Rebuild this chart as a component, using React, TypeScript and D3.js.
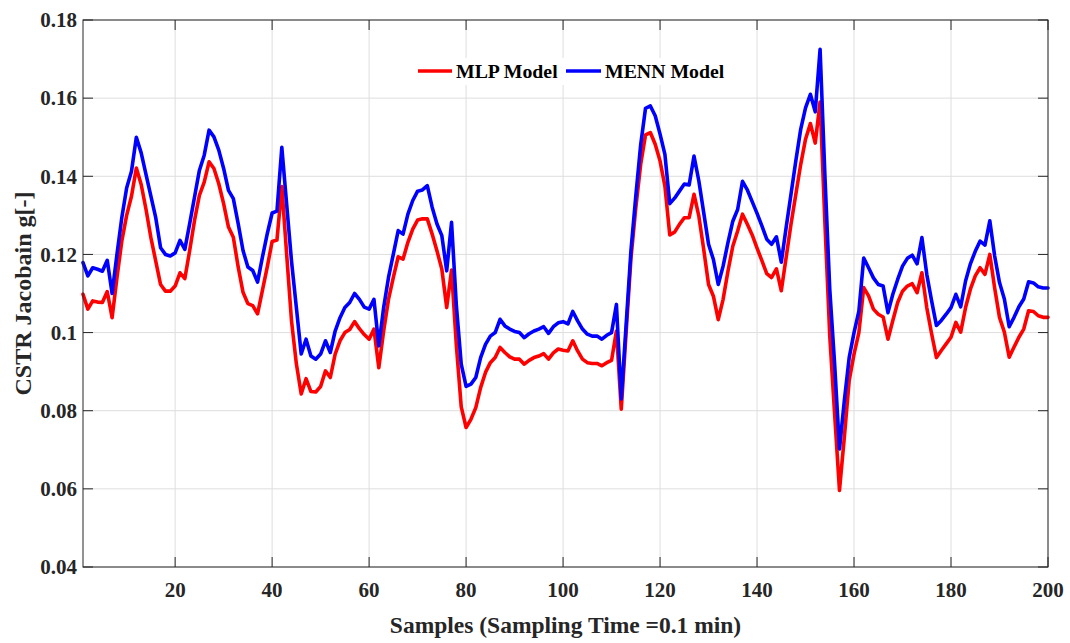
import React from "react";
import * as d3 from "d3";

const mlpModel: number[] = [
  0.1098, 0.106, 0.1081, 0.1078, 0.1077, 0.1105, 0.1038, 0.114, 0.1234, 0.13,
  0.1349, 0.1421, 0.1379, 0.1315, 0.1243, 0.1183, 0.1123, 0.1106, 0.1106, 0.1119,
  0.1153, 0.1138, 0.121, 0.1287, 0.1351, 0.1385, 0.1437, 0.142, 0.1381, 0.133,
  0.127, 0.1244, 0.1168, 0.1103, 0.1074, 0.1069, 0.1048, 0.1108, 0.1168, 0.1233,
  0.1237, 0.1374, 0.12, 0.103, 0.092, 0.0843, 0.0882, 0.0849, 0.0848, 0.0862,
  0.0902, 0.0885, 0.0945, 0.0979, 0.1, 0.1008, 0.1028, 0.101, 0.0995, 0.0983,
  0.1009, 0.091, 0.1004, 0.1085, 0.1141, 0.1194, 0.1188, 0.1231, 0.1265, 0.1288,
  0.1291, 0.1291, 0.1252, 0.1209, 0.1162, 0.1064, 0.116, 0.0966, 0.081, 0.0757,
  0.0778, 0.0808, 0.0859, 0.0898, 0.0923, 0.0936, 0.0962, 0.0949, 0.0938, 0.0932,
  0.0932, 0.0919, 0.0929, 0.0936, 0.094, 0.0946, 0.0932, 0.0948, 0.0958, 0.0955,
  0.0953, 0.0979, 0.0953, 0.0932, 0.0923, 0.0921, 0.0921, 0.0915, 0.0923, 0.0929,
  0.1004, 0.0804, 0.1, 0.119, 0.132, 0.143, 0.1506, 0.1512, 0.1482, 0.1439,
  0.1375, 0.125, 0.1257, 0.1277, 0.1294, 0.1294, 0.1354, 0.1298, 0.1213, 0.1123,
  0.1093, 0.1033, 0.1085, 0.1157, 0.1221, 0.126, 0.1303, 0.1277, 0.125, 0.1216,
  0.1184, 0.1151, 0.1141, 0.1163, 0.1107, 0.1192, 0.1277, 0.1354, 0.143, 0.1495,
  0.1535, 0.1485, 0.159, 0.128, 0.099, 0.0791, 0.0596, 0.0732, 0.0877, 0.0945,
  0.1, 0.1115, 0.1094, 0.106, 0.1047, 0.104, 0.0983, 0.1031, 0.1077, 0.1106,
  0.1119, 0.1125, 0.1102, 0.1153, 0.1064, 0.0997, 0.0936, 0.0954, 0.0971, 0.0988,
  0.1026, 0.1001, 0.1064, 0.1111, 0.1145, 0.1166, 0.1149, 0.12, 0.1114, 0.1039,
  0.1001, 0.0937, 0.0963, 0.0988, 0.1009, 0.1056, 0.1054, 0.1043, 0.1039, 0.1039,
];

const mennModel: number[] = [
  0.1179, 0.1145, 0.1166, 0.1162, 0.1157, 0.1185, 0.11, 0.12, 0.1294, 0.137,
  0.1413, 0.15, 0.146, 0.1404, 0.1349, 0.1294, 0.1217, 0.12, 0.1196, 0.1204,
  0.1236, 0.1213, 0.1279, 0.1347, 0.1415, 0.1454, 0.1518, 0.1501, 0.1467, 0.142,
  0.1364, 0.1343, 0.1279, 0.121, 0.1168, 0.1159, 0.1129, 0.1193, 0.1253, 0.1306,
  0.1311, 0.1474, 0.1328, 0.1183, 0.1064, 0.0945, 0.0983, 0.094, 0.0932, 0.0945,
  0.0979, 0.0949, 0.1004, 0.1038, 0.1064, 0.1077, 0.11, 0.1085, 0.1065, 0.106,
  0.1085, 0.0966, 0.1064, 0.1141, 0.1201, 0.1261, 0.1252, 0.1303, 0.1338, 0.1362,
  0.1365, 0.1376, 0.1321, 0.1278, 0.1248, 0.1158, 0.1282, 0.1068, 0.0919, 0.0862,
  0.0868, 0.0885, 0.0936, 0.097, 0.0991, 0.1, 0.1034, 0.1017, 0.1009, 0.1003,
  0.1, 0.0987, 0.0997, 0.1004, 0.1009, 0.1015, 0.0998, 0.1015, 0.1025, 0.1028,
  0.1022, 0.1054, 0.103, 0.1009, 0.0996, 0.0991, 0.0991, 0.0983, 0.0993, 0.1,
  0.1072, 0.083, 0.102, 0.121, 0.135, 0.148, 0.1574, 0.158, 0.1555, 0.1508,
  0.1456, 0.133, 0.1344, 0.1362, 0.138, 0.1378, 0.1452, 0.1388, 0.1307, 0.1226,
  0.1187, 0.1123, 0.117, 0.123, 0.1285, 0.1315, 0.1387, 0.1365, 0.1335, 0.1305,
  0.1273, 0.1239, 0.1226, 0.1245, 0.118, 0.1269, 0.1354, 0.144, 0.152, 0.1575,
  0.161, 0.1565, 0.1725, 0.14, 0.111, 0.0919, 0.0702, 0.0826, 0.0936, 0.1,
  0.1055, 0.1191, 0.1166, 0.114, 0.1123, 0.1119, 0.1051, 0.1098, 0.1136, 0.117,
  0.119, 0.1198, 0.1176, 0.1243, 0.1149, 0.1081, 0.1018, 0.1031, 0.1047, 0.1064,
  0.1098, 0.1066, 0.1132, 0.1176, 0.1208, 0.1234, 0.1224, 0.1286, 0.1196, 0.1128,
  0.1086, 0.1015, 0.1039, 0.1066, 0.1086, 0.113, 0.1127, 0.1117, 0.1114, 0.1114,
];

const xTicks = [20, 40, 60, 80, 100, 120, 140, 160, 180, 200];
const yTicks = [0.04, 0.06, 0.08, 0.1, 0.12, 0.14, 0.16, 0.18];
const yTickLabels = ["0.04", "0.06", "0.08", "0.1", "0.12", "0.14", "0.16", "0.18"];
const seriesNames = ["MLP Model", "MENN Model"];
const seriesColors = ["#ff0000", "#0000ff"];

const W = 1070;
const H = 643;
const M = { left: 83, right: 22, top: 20, bottom: 76 };
const FONT = "'Liberation Serif', 'Times New Roman', serif";
const AX = "#262626";

export default function App() {
  const x = d3.scaleLinear().domain([1, 200]).range([M.left, W - M.right]);
  const y = d3.scaleLinear().domain([0.04, 0.18]).range([H - M.bottom, M.top]);
  const line = d3
    .line<number>()
    .x((_, i) => x(i + 1))
    .y((d) => y(d));
  const x0 = x.range()[0], x1 = x.range()[1];
  const y0 = y.range()[0], y1 = y.range()[1];
  const tl = 10;
  const series = [mlpModel, mennModel];

  return (
    <svg
      width={W}
      height={H}
      style={{ position: "absolute", left: 0, top: 0, background: "#fff" }}
      fontFamily={FONT}
    >
      <rect x={0} y={0} width={W} height={H} fill="#fff" />
      {xTicks.map((t) => (
        <line key={"gx" + t} x1={x(t)} x2={x(t)} y1={y0} y2={y1} stroke="#dedede" strokeWidth={1} />
      ))}
      {yTicks.map((t) => (
        <line key={"gy" + t} x1={x0} x2={x1} y1={y(t)} y2={y(t)} stroke="#dedede" strokeWidth={1} />
      ))}
      <rect x={408} y={58} width={324} height={27} fill="#fff" />
      {series.map((s, k) => (
        <path
          key={"s" + k}
          d={line(s) || ""}
          fill="none"
          stroke={seriesColors[k]}
          strokeWidth={3.6}
          strokeLinejoin="round"
          strokeLinecap="round"
        />
      ))}
      <rect x={x0} y={y1} width={x1 - x0} height={y0 - y1} fill="none" stroke={AX} strokeWidth={1} />
      {xTicks.map((t) => (
        <g key={"tx" + t}>
          <line x1={x(t)} x2={x(t)} y1={y0} y2={y0 - tl} stroke={AX} />
          <line x1={x(t)} x2={x(t)} y1={y1} y2={y1 + tl} stroke={AX} />
          <text x={x(t)} y={y0 + 30} textAnchor="middle" fontSize={21} fontWeight="bold" fill={AX}>
            {t}
          </text>
        </g>
      ))}
      {yTicks.map((t, i) => (
        <g key={"ty" + t}>
          <line x1={x0} x2={x0 + tl} y1={y(t)} y2={y(t)} stroke={AX} />
          <line x1={x1} x2={x1 - tl} y1={y(t)} y2={y(t)} stroke={AX} />
          <text x={x0 - 6} y={y(t)} dy="0.35em" textAnchor="end" fontSize={21} fontWeight="bold" fill={AX}>
            {yTickLabels[i]}
          </text>
        </g>
      ))}
      <text x={(x0 + x1) / 2} y={633} textAnchor="middle" fontSize={23.5} fontWeight="bold" fill={AX}>
        Samples (Sampling Time =0.1 min)
      </text>
      <text
        transform={`translate(31, ${(y0 + y1) / 2}) rotate(-90)`}
        textAnchor="middle"
        fontSize={24}
        fontWeight="bold"
        fill={AX}
      >
        CSTR Jacobain g[-]
      </text>
      <line x1={418} x2={452} y1={71} y2={71} stroke={seriesColors[0]} strokeWidth={3.6} />
      <text x={456} y={71} dy="0.35em" fontSize={19.8} fontWeight="bold" fill="#000">
        {seriesNames[0]}
      </text>
      <line x1={566} x2={601} y1={71} y2={71} stroke={seriesColors[1]} strokeWidth={3.6} />
      <text x={605} y={71} dy="0.35em" fontSize={19.8} fontWeight="bold" fill="#000">
        {seriesNames[1]}
      </text>
    </svg>
  );
}
